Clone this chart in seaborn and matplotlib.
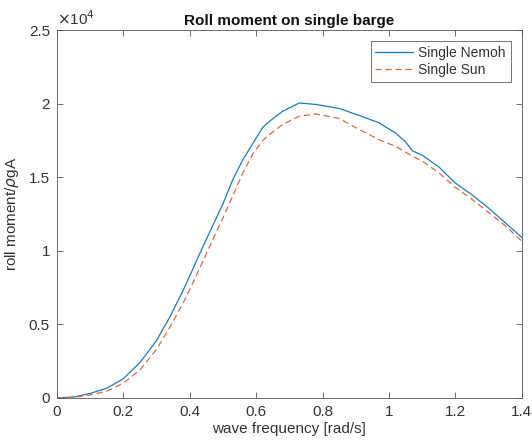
import numpy as np
import pandas as pd
import matplotlib
matplotlib.use("Agg")
import matplotlib.pyplot as plt
import seaborn as sns
from matplotlib.ticker import FuncFormatter, MultipleLocator

freq = [0, 0.05, 0.1, 0.15, 0.2, 0.25, 0.3, 0.34, 0.38, 0.41, 0.44, 0.47, 0.5, 0.53,
        0.56, 0.59, 0.62, 0.64, 0.68, 0.73, 0.78, 0.85, 0.91, 0.97, 1.02, 1.05, 1.07,
        1.1, 1.15, 1.2, 1.25, 1.3, 1.35, 1.4]
nemoh = [0, 50, 300, 650, 1300, 2400, 3900, 5500, 7300, 8800, 10300, 11750, 13200, 14850,
         16200, 17300, 18400, 18800, 19500, 20050, 19950, 19680, 19200, 18700, 18000, 17400,
         16800, 16500, 15700, 14600, 13800, 12900, 11900, 10900]
sun = [0, 30, 200, 450, 1000, 1900, 3300, 4800, 6450, 7850, 9300, 10800, 12250, 13750,
       15300, 16600, 17500, 17900, 18600, 19150, 19300, 19000, 18250, 17550, 17100, 16700,
       16450, 16100, 15300, 14300, 13500, 12600, 11700, 10650]
series_names = ["Single Nemoh", "Single Sun"]

df = pd.concat([
    pd.DataFrame({"freq": freq, "val": nemoh, "series": series_names[0]}),
    pd.DataFrame({"freq": freq, "val": sun, "series": series_names[1]}),
])

sns.set_style("white")
plt.rcParams["font.family"] = ["Liberation Sans", "DejaVu Sans"]
plt.rcParams["mathtext.fontset"] = "dejavusans"

txt = "#333333"
fig = plt.figure(figsize=(5.32, 4.44), dpi=100)
ax = fig.add_axes([0.107, 0.104, 0.874, 0.828])

sns.lineplot(data=df, x="freq", y="val", hue="series", style="series",
             palette=["#1a7cc0", "#dd6a3c"], dashes=[(None, None), (5, 3)],
             linewidth=0.9, ax=ax, legend=True)

ax.set_xlim(0, 1.4)
ax.set_ylim(0, 25000)
ax.xaxis.set_major_locator(MultipleLocator(0.2))
ax.yaxis.set_major_locator(MultipleLocator(5000))
ax.xaxis.set_major_formatter(FuncFormatter(lambda v, p: f"{v:g}"))
ax.yaxis.set_major_formatter(FuncFormatter(lambda v, p: f"{v/1e4:g}"))

for s in ax.spines.values():
    s.set_color("#555555")
    s.set_linewidth(0.6)
ax.tick_params(direction="in", length=4, width=0.6, colors="#555555", labelcolor=txt,
               labelsize=11, top=True, right=True, bottom=True, left=True, pad=5)

ax.set_xlabel("wave frequency [rad/s]", fontsize=11, color=txt, labelpad=2)
ax.set_ylabel("roll moment/$\\rho$gA", fontsize=11, color=txt, labelpad=6)
ax.set_title("Roll moment on single barge", fontsize=11, fontweight="bold", pad=4,
             color="#111111")
ax.text(0.0, 1.005, "$\\times$10$^{4}$", transform=ax.transAxes, fontsize=11,
        color=txt, ha="left", va="bottom")

leg = ax.legend(loc="upper right", fontsize=10, frameon=True, fancybox=False,
                edgecolor="#333333", handlelength=2.7, handletextpad=0.4,
                borderaxespad=0.8, borderpad=0.35, labelspacing=0.2)
leg.get_frame().set_linewidth(0.6)
for t in leg.get_texts():
    t.set_color(txt)

fig.savefig("out.png", dpi=100)
